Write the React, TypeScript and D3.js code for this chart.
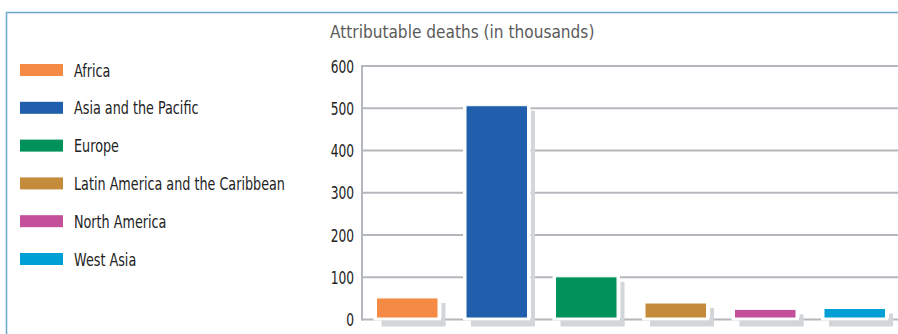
import React from 'react';
import * as d3 from 'd3';

const regions = ['Africa', 'Asia and the Pacific', 'Europe', 'Latin America and the Caribbean', 'North America', 'West Asia'];
const deaths = [51, 506, 101, 39, 24, 26];
const colors = ['#f58a45', '#1f5fab', '#00925a', '#c48b3a', '#c44f9a', '#00a0d6'];
const ticks = [0, 100, 200, 300, 400, 500, 600];

const W = 898;
const H = 334;
const FONT = '"DejaVu Sans", sans-serif';

// condensed look: squeeze glyphs horizontally
const Txt: React.FC<{ x: number; y: number; sx: number; size: number; fill: string; anchor?: string; children: React.ReactNode }> = ({ x, y, sx, size, fill, anchor = 'start', children }) => (
  <text transform={`translate(${x},${y}) scale(${sx},1)`} textAnchor={anchor} fontFamily={FONT} fontSize={size} fill={fill}>
    {children}
  </text>
);

const App: React.FC = () => {
  const y = d3.scaleLinear().domain([0, 600]).range([319.5, 66]);
  const x = d3.scaleBand<string>().domain(regions).range([363, 899]).paddingInner(0.313).paddingOuter(0.151);
  const legendY = d3.scalePoint<string>().domain(regions).range([70, 259]);
  const bw = x.bandwidth();
  const grid = '#b4b7bb';
  const shadow = '#d3d6d9';

  return (
    <svg width={W} height={H} style={{ position: 'absolute', left: 0, top: 0, background: '#fff' }}>
      {/* frame */}
      <path d={`M6.5,${H} V12.5 H${W}`} fill="none" stroke="#6aa8cc" strokeWidth={1.5} />

      <Txt x={330} y={38} sx={0.855} size={18} fill="#5a5a5a">Attributable deaths (in thousands)</Txt>

      {/* legend */}
      {regions.map((r, i) => (
        <g key={r} transform={`translate(0,${legendY(r)})`}>
          <rect x={20} y={-6} width={43} height={12} fill={colors[i]} />
          <Txt x={74} y={6.5} sx={0.71} size={18} fill="#222">{r}</Txt>
        </g>
      ))}

      {/* grid */}
      {ticks.map((t) => (
        <g key={t}>
          <line x1={362} x2={W} y1={y(t)} y2={y(t)} stroke={grid} strokeWidth={2} />
          <Txt x={354} y={y(t) + 6.5} sx={0.68} size={18} fill="#222" anchor="end">{t}</Txt>
        </g>
      ))}
      <line x1={362} x2={362} y1={y(600) - 1} y2={y(0) + 1} stroke={grid} strokeWidth={2} />

      {/* bars */}
      {regions.map((r, i) => {
        const x0 = x(r) as number;
        const top = y(deaths[i]);
        const base = y(0);
        return (
          <g key={r}>
            <rect x={x0 - 3} y={top - 3} width={bw + 6} height={base - top + 4} fill="#fff" />
            <rect x={x0 + bw + 3.5} y={top + 5} width={4} height={base - top + 1} fill={shadow} />
            <rect x={x0 + 5} y={base + 1} width={bw + 2.5} height={6} fill={shadow} />
            <rect x={x0} y={top} width={bw} height={base - top - 1.5} fill={colors[i]} stroke="#fff" strokeWidth={1} />
          </g>
        );
      })}
    </svg>
  );
};

export default App;
